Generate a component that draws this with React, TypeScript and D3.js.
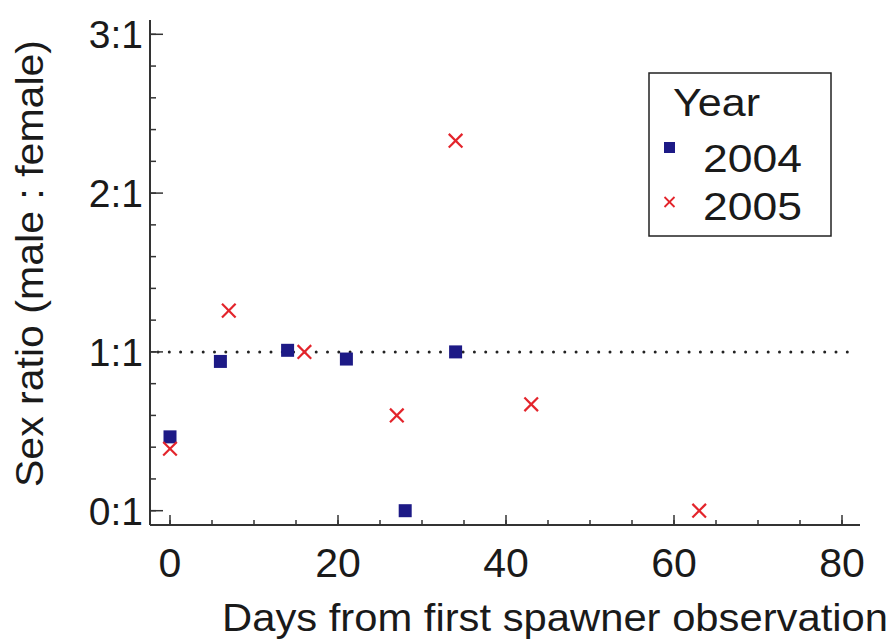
import React from "react";
import * as d3 from "d3";

const days2004 = [0, 6, 14, 21, 28, 34];
const ratio2004 = [0.465, 0.94, 1.01, 0.955, 0, 1.0];
const days2005 = [0, 7, 16, 27, 34, 43, 63];
const ratio2005 = [0.39, 1.26, 1.0, 0.6, 2.33, 0.67, 0];
const xTicks = [0, 20, 40, 60, 80];
const yTicks = [0, 1, 2, 3];
const yTickLabels = ["0:1", "1:1", "2:1", "3:1"];
const legendYears = ["2004", "2005"];

const W = 896;
const H = 639;
const FONT = "'Liberation Sans', Arial, Helvetica, sans-serif";
const AXIS = "#333";
const TEXT = "#1a1a1a";
const NAVY = "#1d1a86";
const RED = "#e3242b";

export default function App() {
  const x = d3.scaleLinear().domain([0, 80]).range([170, 842]);
  const y = d3.scaleLinear().domain([0, 3]).range([510.7, 34.3]);
  const axisX = 150;
  const axisY = 525;

  const xMinor = d3.range(0, 81, 5);
  const yMinor = d3.range(0, 3.0001, 0.2);

  const sq = 13;
  const xs = 6.8;

  const cross = (cx: number, cy: number, r: number, key: string, sw = 2.2) => (
    <g key={key} stroke={RED} strokeWidth={sw} strokeLinecap="butt">
      <line x1={cx - r} y1={cy - r} x2={cx + r} y2={cy + r} />
      <line x1={cx - r} y1={cy + r} x2={cx + r} y2={cy - r} />
    </g>
  );

  return (
    <svg width={W} height={H} style={{ position: "absolute", left: 0, top: 0, background: "#fff" }} fontFamily={FONT}>
      <rect x={0} y={0} width={W} height={H} fill="#fff" />
      {/* dotted reference line at 1:1 */}
      <line x1={axisX + 8} x2={852} y1={y(1)} y2={y(1)} stroke="#222" strokeWidth={3} strokeDasharray="0 11.3" strokeLinecap="round" />
      {/* axes */}
      <line x1={axisX} x2={axisX} y1={20} y2={axisY} stroke={AXIS} strokeWidth={2} />
      <line x1={axisX} x2={860} y1={axisY} y2={axisY} stroke={AXIS} strokeWidth={2} />
      {yMinor.map((v, i) => (
        <line key={"ym" + i} x1={axisX} x2={axisX + 6} y1={y(v)} y2={y(v)} stroke={AXIS} strokeWidth={1.5} />
      ))}
      {yTicks.map((v, i) => (
        <g key={"yt" + i}>
          <line x1={axisX} x2={axisX + 13} y1={y(v)} y2={y(v)} stroke={AXIS} strokeWidth={1.5} />
          <text x={143} y={y(v)} dy="0.36em" textAnchor="end" fontSize={39} fill={TEXT}>
            {yTickLabels[i]}
          </text>
        </g>
      ))}
      {xMinor.map((v, i) => (
        <line key={"xm" + i} x1={x(v)} x2={x(v)} y1={axisY} y2={axisY - 5} stroke={AXIS} strokeWidth={1.5} />
      ))}
      {xTicks.map((v, i) => (
        <g key={"xt" + i}>
          <line x1={x(v)} x2={x(v)} y1={axisY} y2={axisY - 10} stroke={AXIS} strokeWidth={1.5} />
          <text x={x(v)} y={577} textAnchor="middle" fontSize={41} fill={TEXT}>
            {v}
          </text>
        </g>
      ))}
      {/* axis titles */}
      <text x={222} y={631} fontSize={38} fill={TEXT} textLength={666} lengthAdjust="spacingAndGlyphs">
        Days from first spawner observation
      </text>
      <text
        transform={`translate(43, 487) rotate(-90)`}
        fontSize={39}
        fill={TEXT}
        textLength={447}
        lengthAdjust="spacingAndGlyphs"
      >
        Sex ratio (male : female)
      </text>
      {/* data */}
      {days2004.map((d, i) => (
        <rect key={"s" + i} x={x(d) - sq / 2} y={y(ratio2004[i]) - sq / 2} width={sq} height={sq} fill={NAVY} />
      ))}
      {days2005.map((d, i) => cross(x(d), y(ratio2005[i]), xs, "c" + i))}
      {/* legend */}
      <rect x={649} y={73} width={182} height={163} fill="#fff" stroke="#222" strokeWidth={1.5} />
      <text x={673} y={116} fontSize={38} fill={TEXT} textLength={87} lengthAdjust="spacingAndGlyphs">Year</text>
      <rect x={664} y={142} width={11} height={11} fill={NAVY} />
      {cross(669.5, 202, 5, "lc", 1.8)}
      {legendYears.map((t, i) => (
        <text key={"ly" + i} x={703} y={i === 0 ? 172 : 220} fontSize={39} fill={TEXT} textLength={99} lengthAdjust="spacingAndGlyphs">
          {t}
        </text>
      ))}
    </svg>
  );
}
